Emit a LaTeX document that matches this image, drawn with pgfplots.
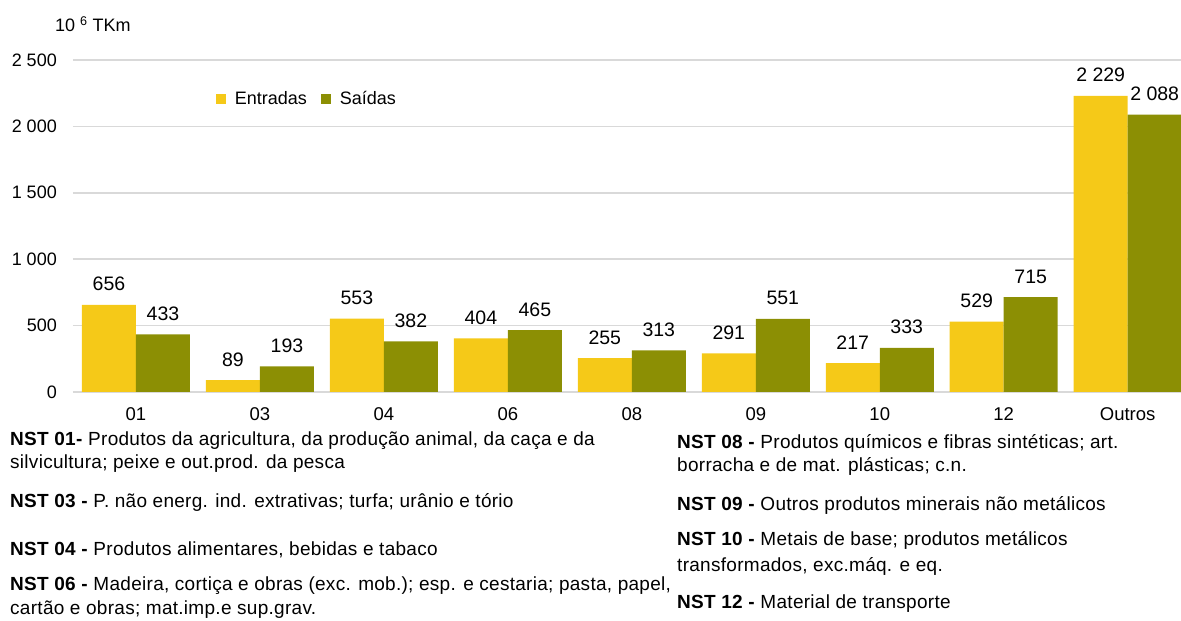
\documentclass[border=0pt]{standalone}
\usepackage{fontspec}
\setmainfont{Liberation Sans}
\newfontfamily\notefont[LetterSpace=1.5]{Liberation Sans}
\usepackage{pgfplots}
\pgfplotsset{compat=1.18}
\definecolor{cE}{HTML}{F5C918}
\definecolor{cS}{HTML}{8C8F04}
\definecolor{grd}{HTML}{D9D9D9}
\newcommand{\fs}{\fontsize{18}{21}\selectfont}
\newcommand{\fx}{\fontsize{18.5}{21}\selectfont}
\newcommand{\fv}{\fontsize{19.5}{22}\selectfont}
\newcommand{\fn}{\notefont\fontsize{19}{22}\selectfont}
\begin{document}
\fs
\begin{tikzpicture}
\begin{axis}[
 at={(0,0)}, anchor=south west,
 scale only axis, width=1108pt, height=332pt,
 xmin=-0.508, xmax=8.43, ymin=0, ymax=2500,
 ybar=0pt, bar width=54pt,
 xtick={0,...,8}, xticklabels={01,03,04,06,08,09,10,12,Outros},
 ytick={0,500,...,2500},
 axis line style={draw=none}, major tick length=0pt,
 ymajorgrids, grid style={grd, line width=1.5pt},
 /pgf/number format/.cd, 1000 sep={\ }, assume math mode=true, /pgfplots/.cd,
 scaled y ticks=false,
 yticklabel style={anchor=east, inner sep=0pt, xshift=-16pt, font=\fs},
 xticklabel style={anchor=north, inner sep=0pt, yshift=-15pt, font=\fx},
 nodes near coords,
 nodes near coords style={font=\fv, anchor=base, inner sep=0pt, yshift=14pt, text=black},
 legend style={at={(0.126,0.8825)}, anchor=west, draw=none, fill=none, font=\fs,
   legend columns=2,
   /tikz/every odd column/.append style={column sep=7pt},
   /tikz/every even column/.append style={column sep=12pt}},
 legend image code/.code={\fill[#1] (0pt,-5pt) rectangle (10pt,5pt);},
]
\addplot[fill=cE, draw=none] coordinates {(0,656) (1,89) (2,553) (3,404) (4,255) (5,291) (6,217) (7,529) (8,2229)};
\addplot[fill=cS, draw=none] coordinates {(0,433) (1,193) (2,382) (3,465) (4,313) (5,551) (6,333) (7,715) (8,2088)};
\legend{Entradas, Saídas}
\end{axis}
\node[anchor=base west, inner sep=0pt] at (-18pt,360pt) {10 \textsuperscript{6} TKm};
\begin{scope}[every node/.style={anchor=base west, inner sep=0pt, font=\fn}]
\node at (-63pt,-54pt) {\textbf{NST 01-} Produtos da agricultura, da produção animal, da caça e da};
\node at (-63pt,-77pt) {silvicultura; peixe e out.prod. da pesca};
\node at (-63pt,-115pt) {\textbf{NST 03 -} P. não energ. ind. extrativas; turfa; urânio e tório};
\node at (-63pt,-163pt) {\textbf{NST 04 -} Produtos alimentares, bebidas e tabaco};
\node at (-63pt,-198pt) {\textbf{NST 06 -} Madeira, cortiça e obras (exc. mob.); esp. e cestaria; pasta, papel,};
\node at (-63pt,-222pt) {cartão e obras; mat.imp.e sup.grav.};
\node at (604pt,-57pt) {\textbf{NST 08 -} Produtos químicos e fibras sintéticas; art.};
\node at (604pt,-80pt) {borracha e de mat. plásticas; c.n.};
\node at (604pt,-118pt) {\textbf{NST 09 -} Outros produtos minerais não metálicos};
\node at (604pt,-153pt) {\textbf{NST 10 -} Metais de base; produtos metálicos};
\node at (604pt,-179pt) {transformados, exc.máq. e eq.};
\node at (604pt,-216pt) {\textbf{NST 12 -} Material de transporte};
\end{scope}
\pgfresetboundingbox
\path (-73pt,-229pt) rectangle (1108pt,392pt);
\end{tikzpicture}
\end{document}
